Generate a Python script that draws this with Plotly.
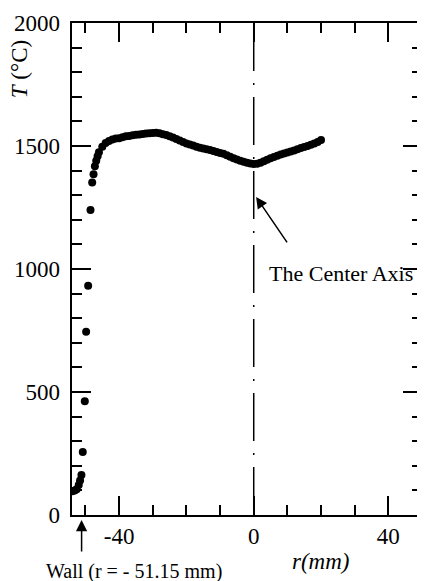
import plotly.graph_objects as go

r_wall_region = [-53.9, -53.2, -52.6, -52.0, -51.6, -51.2, -50.8, -50.2, -49.8, -49.2,
                 -48.5, -48.0, -47.6, -47.2, -46.8, -46.4]
T_wall_region = [97, 100, 105, 122, 140, 163, 256, 462, 745, 932,
                 1240, 1352, 1385, 1418, 1440, 1458]

r_core = [-46, -45, -44, -43, -42, -41, -40, -39, -38, -37, -36, -35, -34, -33, -32, -31,
          -30, -29, -28, -27, -26, -25, -24, -23, -22, -21, -20, -19, -18, -17, -16, -15,
          -14, -13, -12, -11, -10, -9, -8, -7, -6, -5, -4, -3, -2, -1, 0, 1, 2, 3, 4, 5,
          6, 7, 8, 9, 10, 11, 12, 13, 14, 15, 16, 17, 18, 19, 20]
T_core = [1475, 1497, 1512, 1520, 1526, 1530, 1532, 1536, 1540, 1541, 1544, 1546, 1547,
          1549, 1551, 1552, 1553, 1554, 1552, 1548, 1545, 1540, 1535, 1528, 1522, 1516,
          1510, 1506, 1502, 1497, 1493, 1490, 1487, 1484, 1480, 1476, 1472, 1468, 1462,
          1456, 1450, 1445, 1440, 1436, 1432, 1429, 1427, 1428, 1432, 1438, 1444, 1450,
          1455, 1460, 1465, 1470, 1474, 1478, 1482, 1487, 1492, 1496, 1500, 1505, 1510,
          1516, 1524]

x_tick_vals = [-40, 0, 40]
x_tick_text = ["-40", "0", "40"]
y_tick_vals = [0, 500, 1000, 1500, 2000]
y_tick_text = ["0", "500", "1000", "1500", "2000"]
x_range = [-54, 50]
y_range = [0, 2000]

wall_r = -51.15
center_r = 0

FONT = "Liberation Serif"

fig = go.Figure()
fig.add_trace(go.Scatter(
    x=r_wall_region + r_core,
    y=T_wall_region + T_core,
    mode="markers",
    marker=dict(color="black", size=8),
    showlegend=False, hoverinfo="skip",
))
# invisible trace carrying the overlay tick axes (bottom / left tick marks)
fig.add_trace(go.Scatter(x=x_range, y=y_range, xaxis="x2", yaxis="y2", mode="markers",
                         marker=dict(opacity=0), showlegend=False, hoverinfo="skip"))

# centre axis (dash-dot)
fig.add_shape(type="line", xref="x", yref="paper", x0=center_r, x1=center_r, y0=1, y1=0,
              line=dict(color="black", width=1.5, dash="48px,12px,2px,12px"))

tick_common = dict(showgrid=False, zeroline=False, showline=True, linecolor="black",
                   linewidth=1.5, ticks="inside", ticklen=19, tickwidth=1.5,
                   tickcolor="black", automargin=False, tickmode="array")
x_minor = dict(tickmode="linear", tick0=0, dtick=10, ticks="inside", ticklen=10,
               tickwidth=1.5, tickcolor="black", showgrid=False)
y_minor = dict(tickmode="linear", tick0=0, dtick=100, ticks="inside", ticklen=10,
               tickwidth=1.5, tickcolor="black", showgrid=False)

# page body has an 8px default margin: figure is placed at (8, 8)
fig.update_layout(
    template="none",
    width=417, height=573,
    margin=dict(l=64, r=3, t=15, b=66),
    paper_bgcolor="white", plot_bgcolor="white",
    font=dict(family=FONT, color="black", size=23),
    xaxis=dict(
        range=x_range, tickvals=x_tick_vals, ticktext=x_tick_text,
        minor=x_minor, mirror="allticks",
        tickfont=dict(family=FONT, size=23, color="black"),
        **tick_common,
    ),
    yaxis=dict(
        range=y_range, tickvals=y_tick_vals,
        ticktext=[t + "\u00a0" for t in y_tick_text],
        minor=y_minor, mirror="allticks",
        tickfont=dict(family=FONT, size=23, color="black"),
        **tick_common,
    ),
    xaxis2=dict(
        range=x_range, overlaying="x", side="bottom", tickvals=x_tick_vals,
        showticklabels=False, minor=x_minor, anchor="y2",
        **tick_common,
    ),
    yaxis2=dict(
        range=y_range, overlaying="y", side="left", tickvals=y_tick_vals,
        showticklabels=False, minor=y_minor, anchor="x2",
        **tick_common,
    ),
    annotations=[
        # y-axis title
        dict(text="<i>T</i> (°C)", xref="paper", yref="paper", x=-0.15, y=0.905,
             xanchor="center", yanchor="middle", textangle=-90, showarrow=False,
             font=dict(family=FONT, size=23, color="black")),
        # x-axis title
        dict(text="<i>r(mm)</i>", xref="paper", yref="paper", x=0.71, y=-0.095,
             xanchor="center", yanchor="middle", showarrow=False,
             font=dict(family=FONT, size=23, color="black")),
        # centre axis label with arrow
        dict(text="", x=0.7, y=1293, xref="x", yref="y", ax=32, ay=47,
             showarrow=True, arrowhead=2, arrowsize=1.5, arrowwidth=1.5, arrowcolor="black"),
        dict(text="The Center Axis", x=4.0, y=983, xref="x", yref="y",
             xanchor="left", yanchor="middle", showarrow=False,
             font=dict(family=FONT, size=22, color="black")),
        # wall label with arrow
        dict(text="", x=wall_r, y=-0.01, xref="x", yref="paper", ax=0, ay=33,
             showarrow=True, arrowhead=2, arrowsize=1.5, arrowwidth=1.5, arrowcolor="black"),
        dict(text="Wall (r = - 51.15 mm)", xref="paper", yref="paper", x=0.178, y=-0.115,
             xanchor="center", yanchor="middle", showarrow=False,
             font=dict(family=FONT, size=20, color="black")),
    ],
)

fig.write_html("out.html")
